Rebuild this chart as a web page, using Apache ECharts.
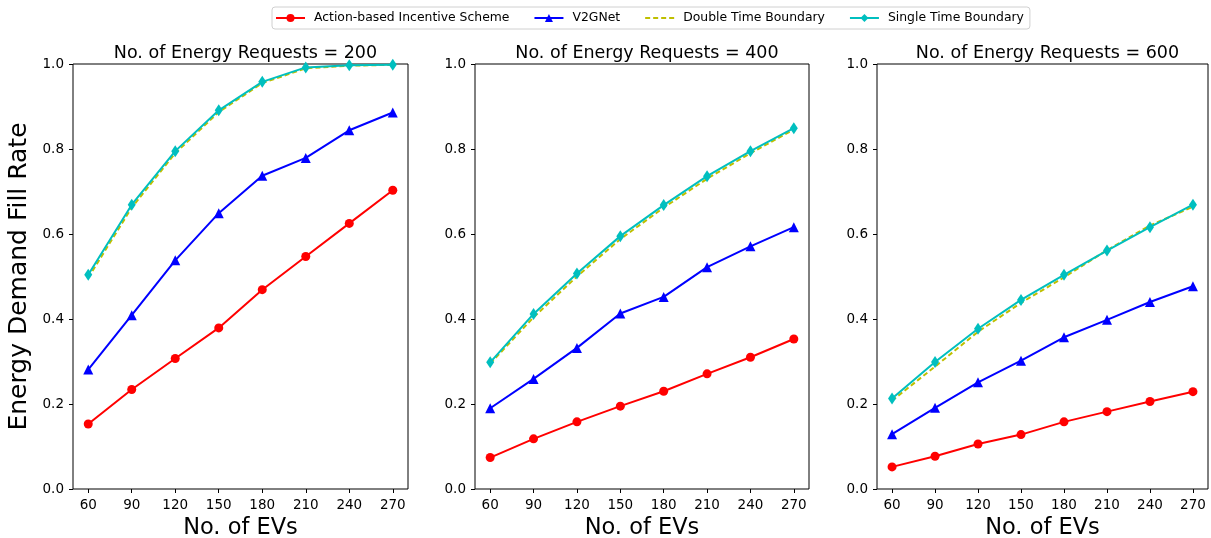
<!DOCTYPE html>
<html>
<head>
<meta charset="utf-8">
<script src="https://cdn.jsdelivr.net/npm/echarts@6/dist/echarts.min.js"></script>
<style>
html,body{margin:0;padding:0;background:#fff;}
#main{width:1211px;height:538px;}
</style>
</head>
<body>
<div id="main"></div>
<script>
var evs=[60,90,120,150,180,210,240,270];
var requests=[200,400,600];
var seriesNames=['Action-based Incentive Scheme','V2GNet','Double Time Boundary','Single Time Boundary'];

// fill rate per panel (200 / 400 / 600 requests)
var actionData=[
    [0.153,0.234,0.307,0.379,0.469,0.547,0.625,0.703],
    [0.074,0.118,0.158,0.195,0.230,0.271,0.310,0.353],
    [0.052,0.077,0.106,0.128,0.158,0.182,0.206,0.229]
];
var v2gData=[
    [0.281,0.409,0.538,0.649,0.737,0.779,0.844,0.886],
    [0.190,0.259,0.332,0.413,0.452,0.522,0.571,0.616],
    [0.129,0.191,0.251,0.302,0.357,0.398,0.440,0.477]
];
var doubleData=[
    [0.497,0.662,0.790,0.887,0.955,0.990,0.996,0.998],
    [0.295,0.404,0.500,0.588,0.662,0.730,0.790,0.846],
    [0.208,0.288,0.370,0.438,0.498,0.562,0.620,0.664]
];
var singleData=[
    [0.504,0.669,0.795,0.891,0.958,0.992,0.997,0.998],
    [0.298,0.412,0.507,0.595,0.668,0.736,0.795,0.849],
    [0.213,0.299,0.377,0.445,0.504,0.561,0.616,0.669]
];

var font='DejaVu Sans';
var grids=[
    {left:73,width:335},
    {left:475,width:334},
    {left:877,width:331}
];

function pairs(arr){
    var out=[];
    for(var i=0;i<evs.length;i++){
        out.push([evs[i],arr[i]]);
    }
    return out;
}

var option={
    backgroundColor:'#fff',
    animation:false,
    textStyle:{fontFamily:font},
    legend:{
        data:[
            {name:seriesNames[0]},
            {name:seriesNames[1]},
            {name:seriesNames[2],itemStyle:{color:'rgba(0,0,0,0)',borderWidth:0}},
            {name:seriesNames[3]}
        ],
        top:7,
        left:272,
        itemWidth:29,
        itemHeight:10,
        itemGap:24,
        padding:[5,6,5,3],
        borderColor:'#d0d0d0',
        borderWidth:1,
        borderRadius:3,
        textStyle:{fontFamily:font,fontSize:12.4,color:'#000',padding:[0,0,0,4]}
    },
    title:[],
    grid:[],
    xAxis:[],
    yAxis:[],
    series:[]
};

for(var g=0;g<3;g++){
    option.grid.push({
        left:grids[g].left,
        width:grids[g].width,
        top:64,
        bottom:49,
        show:true,
        borderColor:'#000',
        borderWidth:1,
        containLabel:false,
        outerBoundsMode:'none'
    });
    option.title.push({
        text:'No. of Energy Requests = '+requests[g],
        left:grids[g].left+grids[g].width/2,
        textAlign:'center',
        top:39,
        textStyle:{fontFamily:font,fontSize:17.5,fontWeight:'normal',color:'#000'}
    });
    option.xAxis.push({
        type:'value',
        gridIndex:g,
        min:49.5,
        max:280.5,
        name:'No. of EVs',
        nameLocation:'middle',
        nameGap:24,
        nameTextStyle:{fontFamily:font,fontSize:22.5,color:'#000'},
        axisLine:{show:false},
        axisTick:{show:true,inside:false,length:4,customValues:evs,lineStyle:{color:'#000'}},
        axisLabel:{customValues:evs,margin:9,fontFamily:font,fontSize:13.5,color:'#000'},
        splitLine:{show:false}
    });
    option.yAxis.push({
        type:'value',
        gridIndex:g,
        min:0,
        max:1,
        interval:0.2,
        name:g==0?'Energy Demand Fill Rate':'',
        nameLocation:'middle',
        nameGap:41,
        nameTextStyle:{fontFamily:font,fontSize:25,color:'#000'},
        axisLine:{show:false},
        axisTick:{show:true,inside:false,length:4,lineStyle:{color:'#000'}},
        axisLabel:{margin:9,fontFamily:font,fontSize:13.5,color:'#000',
            formatter:function(v){return v.toFixed(1);}},
        splitLine:{show:false}
    });

    option.series.push({
        name:seriesNames[0],type:'line',xAxisIndex:g,yAxisIndex:g,
        data:pairs(actionData[g]),
        symbol:'circle',symbolSize:9,
        itemStyle:{color:'#ff0000'},
        lineStyle:{color:'#ff0000',width:2},
        z:2
    });
    option.series.push({
        name:seriesNames[1],type:'line',xAxisIndex:g,yAxisIndex:g,
        data:pairs(v2gData[g]),
        symbol:'triangle',symbolSize:10,
        itemStyle:{color:'#0000ff'},
        lineStyle:{color:'#0000ff',width:2},
        z:3
    });
    option.series.push({
        name:seriesNames[2],type:'line',xAxisIndex:g,yAxisIndex:g,
        data:pairs(doubleData[g]),
        symbol:'none',
        itemStyle:{color:'#bfbf00'},
        lineStyle:{color:'#bfbf00',width:2,type:[5,3]},
        z:4
    });
    option.series.push({
        name:seriesNames[3],type:'line',xAxisIndex:g,yAxisIndex:g,
        data:pairs(singleData[g]),
        symbol:'diamond',symbolSize:[8,12],
        itemStyle:{color:'#00bfbf'},
        lineStyle:{color:'#00bfbf',width:2},
        z:5
    });
}

var myChart=echarts.init(document.getElementById('main'),null,{renderer:'canvas'});
myChart.setOption(option);
</script>
</body>
</html>
